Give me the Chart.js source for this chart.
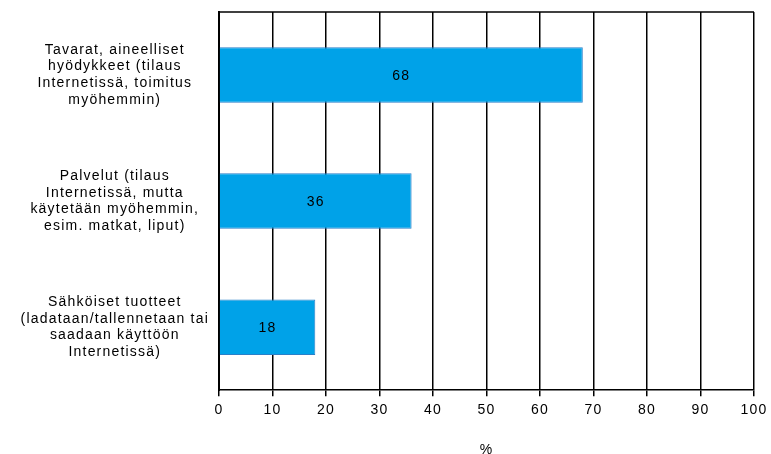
<!DOCTYPE html>
<html>
<head>
<meta charset="utf-8">
<script src="https://cdn.jsdelivr.net/npm/chart.js@4"></script>
<style>
    html, body { margin: 0; padding: 0; background: #fff; }
    #wrap { width: 771px; height: 454px; }
</style>
</head>
<body>
<div id="wrap"><canvas id="chart"></canvas></div>
<script>
// Categories (multi-line labels)
const categories = [
    ['Tavarat, aineelliset', 'hyödykkeet (tilaus', 'Internetissä, toimitus', 'myöhemmin)'],
    ['Palvelut (tilaus', 'Internetissä, mutta', 'käytetään myöhemmin,', 'esim. matkat, liput)'],
    ['Sähköiset tuotteet', '(ladataan/tallennetaan tai', 'saadaan käyttöön', 'Internetissä)']
];
const shares = [68, 36, 18];
const xTicks = [0, 10, 20, 30, 40, 50, 60, 70, 80, 90, 100];
const axisTitle = '%';

const FONT = '"Liberation Sans", Arial, sans-serif';
const SPACING = '1.2px';

// The original uses a loosely spaced font: widen letters a bit
const spacing = {
    id: 'spacing',
    beforeLayout(chart) { chart.ctx.letterSpacing = SPACING; },
    beforeDraw(chart) { chart.ctx.letterSpacing = SPACING; }
};

// Value labels in the middle of each bar
const barLabels = {
    id: 'barLabels',
    afterDatasetsDraw(chart) {
        const ctx = chart.ctx;
        const meta = chart.getDatasetMeta(0);
        ctx.save();
        ctx.fillStyle = '#000';
        ctx.font = '14px ' + FONT;
        ctx.textAlign = 'center';
        ctx.textBaseline = 'middle';
        meta.data.forEach((bar, i) => {
            const x = (bar.x + bar.base) / 2;
            ctx.fillText(String(shares[i]), x, bar.y + 1);
        });
        ctx.restore();
    }
};

// Top border of the plot area
const topLine = {
    id: 'topLine',
    afterDraw(chart) {
        const { ctx, chartArea } = chart;
        ctx.save();
        ctx.strokeStyle = '#000';
        ctx.lineWidth = 1.5;
        ctx.beginPath();
        ctx.moveTo(chartArea.left, chartArea.top);
        ctx.lineTo(chartArea.right, chartArea.top);
        ctx.stroke();
        ctx.restore();
    }
};

new Chart(document.getElementById('chart'), {
    type: 'bar',
    data: {
        labels: categories,
        datasets: [{
            data: shares,
            backgroundColor: '#00a2e8',
            borderColor: '#2a7fc8',
            borderWidth: 1,
            barPercentage: 0.44,
            categoryPercentage: 1
        }]
    },
    options: {
        indexAxis: 'y',
        responsive: true,
        maintainAspectRatio: false,
        animation: false,
        layout: { padding: { top: 12, right: 17, left: 0, bottom: -3 } },
        plugins: {
            legend: { display: false },
            tooltip: { enabled: false }
        },
        scales: {
            x: {
                min: 0,
                max: 100,
                afterBuildTicks(scale) {
                    scale.ticks = xTicks.map(v => ({ value: v }));
                },
                afterFit(scale) {
                    scale.paddingRight = 0;
                    scale.paddingLeft = 0;
                },
                grid: {
                    color: '#000',
                    lineWidth: 1.5,
                    tickLength: 6
                },
                border: { color: '#000', width: 1.5 },
                ticks: {
                    color: '#000',
                    font: { family: FONT, size: 14 },
                    padding: 6,
                    maxRotation: 0
                },
                title: {
                    display: true,
                    text: axisTitle,
                    color: '#000',
                    font: { family: FONT, size: 14, lineHeight: 1 },
                    padding: { top: 18, bottom: 0 }
                }
            },
            y: {
                grid: { display: false },
                border: { color: '#000', width: 2 },
                afterFit(scale) {
                    scale.width = 219;
                    scale.paddingTop = 0;
                    scale.paddingBottom = 0;
                },
                ticks: {
                    color: '#000',
                    crossAlign: 'center',
                    font: { family: FONT, size: 14, lineHeight: 1.2 },
                    padding: 2
                }
            }
        }
    },
    plugins: [spacing, barLabels, topLine]
});
</script>
</body>
</html>
